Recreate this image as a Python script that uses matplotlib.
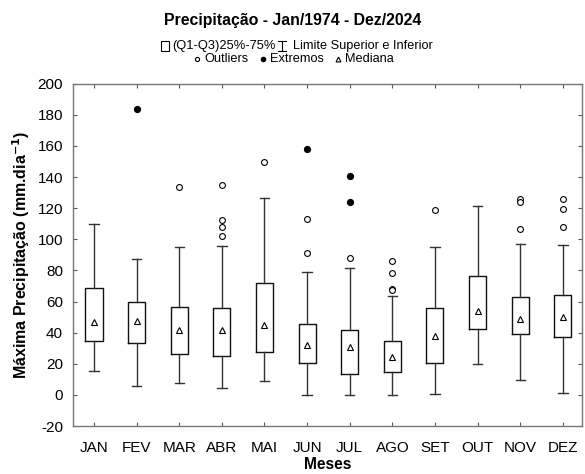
import matplotlib
matplotlib.use("Agg")
import matplotlib.pyplot as plt
from matplotlib.lines import Line2D
from matplotlib.patches import Rectangle

plt.rcParams['font.family'] = ['Liberation Sans', 'DejaVu Sans']
plt.rcParams['axes.unicode_minus'] = False

months = ["JAN", "FEV", "MAR", "ABR", "MAI", "JUN", "JUL", "AGO", "SET", "OUT", "NOV", "DEZ"]
q1 = [34.5, 33.4, 26.4, 25.3, 27.5, 20.7, 13.6, 14.7, 20.2, 42.4, 39.2, 37.3]
q3 = [69.0, 59.6, 56.2, 55.6, 72.2, 45.8, 41.5, 34.7, 55.8, 76.7, 62.8, 63.9]
median = [46.6, 47.3, 41.5, 41.5, 45.2, 32.0, 30.5, 24.5, 37.7, 53.7, 49.0, 50.1]
whis_lo = [15.3, 5.8, 7.7, 4.7, 9.2, 0.0, 0.0, 0.0, 0.4, 19.8, 9.6, 1.1]
whis_hi = [109.7, 87.3, 95.2, 96.0, 126.7, 78.8, 81.8, 63.3, 95.2, 121.6, 96.7, 96.3]
outliers = [[], [], [133.5], [135.2, 112.2, 108.0, 102.0], [149.5], [113.1, 91.2],
            [88.2], [86.0, 78.2, 67.9, 67.1], [118.8], [], [126.1, 124.0, 106.5],
            [125.7, 119.5, 108.2]]
extremes = [[], [183.6], [], [], [], [158.3], [140.6, 123.7], [], [], [], [], []]

W, H = 585, 474
fig = plt.figure(figsize=(W / 100, H / 100), dpi=100)
ax = fig.add_axes([72.7 / W, 1 - 426 / H, (582 - 72.7) / W, (426 - 83.7) / H])

positions = list(range(1, len(months) + 1))
stats = []
for i in range(len(months)):
    stats.append(dict(med=median[i], q1=q1[i], q3=q3[i], whislo=whis_lo[i],
                      whishi=whis_hi[i], fliers=[], label=months[i]))

ax.bxp(stats, positions=positions, widths=0.4, showfliers=False,
       boxprops=dict(color='#111111', linewidth=1.0),
       whiskerprops=dict(color='#333333', linewidth=1.0),
       capprops=dict(color='#333333', linewidth=1.0),
       medianprops=dict(linewidth=0),
       capwidths=0.22)

ax.plot(positions, median, linestyle='none', marker='^', markersize=5,
        markerfacecolor='white', markeredgecolor='black', markeredgewidth=0.8, zorder=4)
for p, vals in zip(positions, outliers):
    if vals:
        ax.plot([p] * len(vals), vals, linestyle='none', marker='o', markersize=4.2,
                markerfacecolor='white', markeredgecolor='black', markeredgewidth=0.8, zorder=4)
for p, vals in zip(positions, extremes):
    if vals:
        ax.plot([p] * len(vals), vals, linestyle='none', marker='o', markersize=4.2,
                markerfacecolor='black', markeredgecolor='black', zorder=4)

ax.set_xlim(0.5, 12.45)
ax.set_ylim(-20, 200)
ax.set_yticks(range(-20, 201, 20))
ax.set_xticks(positions)
ax.set_xticklabels(months)
ax.tick_params(direction='in', length=3, width=0.8, color='#555555',
               top=True, right=True, labelsize=11)
ax.tick_params(axis='x', pad=11)
ax.tick_params(axis='y', pad=7)
for s in ax.spines.values():
    s.set_color('#777777')
    s.set_linewidth(1.0)

ax.set_xlabel("Meses", fontsize=11.2, fontweight='bold')
ax.xaxis.set_label_coords(0.5, -0.092)
ax.set_ylabel("Máxima Precipitação (mm.dia$^{\\mathbf{-1}}$)", fontsize=11.5,
              fontweight='bold', labelpad=4)

fig.text(0.5, 1 - 20 / H, "Precipitação - Jan/1974 - Dez/2024", ha='center', va='center',
         fontsize=11.4, fontweight='bold')

def fx(px):
    return px / W

def fy(py):
    return 1 - py / H

leg_fs = 9.2
y1 = 46
fig.add_artist(Rectangle((fx(160.5), fy(y1 + 4.5)), 8 / W, 10 / H, transform=fig.transFigure,
                         facecolor='white', edgecolor='black', linewidth=0.8))
fig.text(fx(172), fy(y1), "(Q1-Q3)25%-75%", ha='left', va='center', fontsize=9.3)
wx = 282
fig.add_artist(Line2D([fx(wx), fx(wx)], [fy(y1 - 5), fy(y1 + 5)], transform=fig.transFigure,
                      color='black', linewidth=0.8))
fig.add_artist(Line2D([fx(wx - 4), fx(wx + 4)], [fy(y1 - 5), fy(y1 - 5)], transform=fig.transFigure,
                      color='black', linewidth=0.8))
fig.add_artist(Line2D([fx(wx - 4), fx(wx + 4)], [fy(y1 + 5), fy(y1 + 5)], transform=fig.transFigure,
                      color='black', linewidth=0.8))
fig.text(fx(293), fy(y1), "Limite Superior e Inferior", ha='left', va='center', fontsize=leg_fs)

y2 = 59
fig.add_artist(Line2D([fx(197)], [fy(y2)], transform=fig.transFigure, marker='o', markersize=3,
                      markerfacecolor='white', markeredgecolor='black', markeredgewidth=0.8))
fig.text(fx(204), fy(y2), "Outliers", ha='left', va='center', fontsize=leg_fs)
fig.add_artist(Line2D([fx(263)], [fy(y2)], transform=fig.transFigure, marker='o', markersize=3,
                      markerfacecolor='black', markeredgecolor='black'))
fig.text(fx(270), fy(y2), "Extremos", ha='left', va='center', fontsize=leg_fs)
fig.add_artist(Line2D([fx(338)], [fy(y2)], transform=fig.transFigure, marker='^', markersize=3.5,
                      markerfacecolor='white', markeredgecolor='black', markeredgewidth=0.8))
fig.text(fx(345), fy(y2), "Mediana", ha='left', va='center', fontsize=leg_fs)

fig.savefig("out.png", dpi=100)
